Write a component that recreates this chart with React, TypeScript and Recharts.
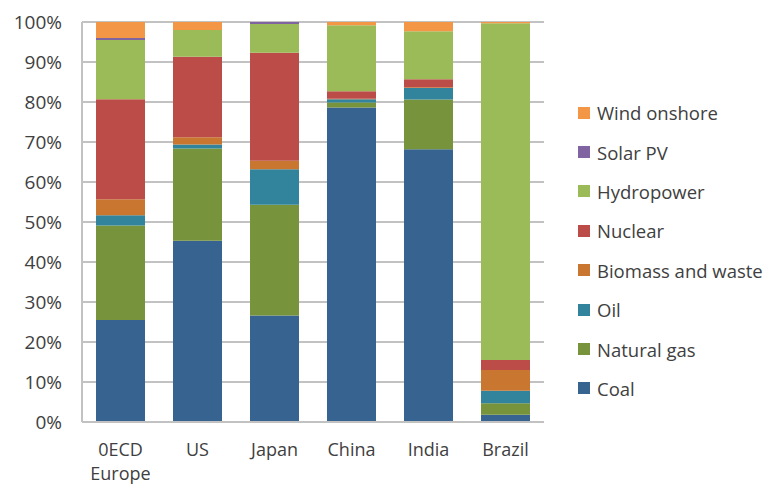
import { BarChart, Bar, XAxis, YAxis, CartesianGrid } from 'recharts';

// Electricity generation mix by region, share of total (%)
const regions = ['0ECD Europe', 'US', 'Japan', 'China', 'India', 'Brazil'];
const coal = [25.5, 45.3, 26.6, 78.6, 68.2, 1.8];
const naturalGas = [23.6, 23.1, 27.7, 1.3, 12.4, 2.9];
const oil = [2.6, 1.0, 8.9, 0.8, 2.9, 3.1];
const biomassAndWaste = [4.0, 1.8, 2.1, 0.1, 0.2, 5.2];
const nuclear = [25.0, 20.1, 27.0, 1.9, 2.0, 2.5];
const hydropower = [14.8, 6.7, 7.2, 16.5, 12.0, 84.2];
const solarPV = [0.5, 0.0, 0.5, 0.0, 0.0, 0.0];
const windOnshore = [4.0, 2.0, 0.0, 0.8, 2.3, 0.3];
const percentTicks = [0, 10, 20, 30, 40, 50, 60, 70, 80, 90, 100];

// bottom to top stacking order
const series = [
  { key: 'coal', name: 'Coal', values: coal, color: '#376391' },
  { key: 'gas', name: 'Natural gas', values: naturalGas, color: '#77933c' },
  { key: 'oil', name: 'Oil', values: oil, color: '#31849b' },
  { key: 'biomass', name: 'Biomass and waste', values: biomassAndWaste, color: '#c97630' },
  { key: 'nuclear', name: 'Nuclear', values: nuclear, color: '#bb4c47' },
  { key: 'hydro', name: 'Hydropower', values: hydropower, color: '#9bbb59' },
  { key: 'solar', name: 'Solar PV', values: solarPV, color: '#8064a2' },
  { key: 'wind', name: 'Wind onshore', values: windOnshore, color: '#f39646' },
];

const data = regions.map((region, i) => {
  const row: Record<string, string | number> = { region };
  series.forEach((s) => {
    row[s.key] = s.values[i];
  });
  return row;
});

const font = '"Open Sans", "DejaVu Sans", sans-serif';
const textColor = '#404040';
const gridColor = '#c2c2c2';

// region names wrap one word per line
function RegionTick({ x, y, payload }: any) {
  const lines = String(payload.value).split(' ');
  return (
    <text x={x} y={y} textAnchor="middle" fill={textColor} fontSize={18} fontFamily={font}>
      {lines.map((line, i) => (
        <tspan key={i} x={x} dy={i === 0 ? 26 : 24}>
          {line}
        </tspan>
      ))}
    </text>
  );
}

export default function App() {
  return (
    <div style={{ position: 'absolute', left: 0, top: 0, width: 768, height: 486, background: '#fff' }}>
      <BarChart
        width={768}
        height={486}
        data={data}
        margin={{ top: 22, right: 224, bottom: 4, left: 10 }}
      >
        <CartesianGrid vertical={false} stroke={gridColor} strokeWidth={2} />
        <XAxis
          dataKey="region"
          height={60}
          tickLine={false}
          axisLine={{ stroke: gridColor, strokeWidth: 2 }}
          tick={<RegionTick />}
          interval={0}
        />
        <YAxis
          width={72}
          domain={[0, 100]}
          ticks={percentTicks}
          tickFormatter={(v: number) => `${v}%`}
          tickLine={false}
          tickSize={6}
          tickMargin={14}
          axisLine={{ stroke: gridColor, strokeWidth: 2 }}
          tick={{ fill: textColor, fontSize: 19, fontFamily: font }}
          interval={0}
        />
        {series.map((s) => (
          <Bar
            key={s.key}
            dataKey={s.key}
            name={s.name}
            stackId="mix"
            fill={s.color}
            barSize={49}
            isAnimationActive={false}
          />
        ))}
      </BarChart>

      {/* legend, top entry is the top of the stack */}
      <div style={{ position: 'absolute', left: 578, top: 93, fontFamily: font, fontSize: 18.5, color: textColor }}>
        {[...series].reverse().map((s) => (
          <div key={s.key} style={{ height: 39.4, display: 'flex', alignItems: 'center' }}>
            <span style={{ width: 12, height: 12, background: s.color, marginRight: 7, display: 'inline-block' }} />
            <span style={{ whiteSpace: 'nowrap' }}>{s.name}</span>
          </div>
        ))}
      </div>
    </div>
  );
}
